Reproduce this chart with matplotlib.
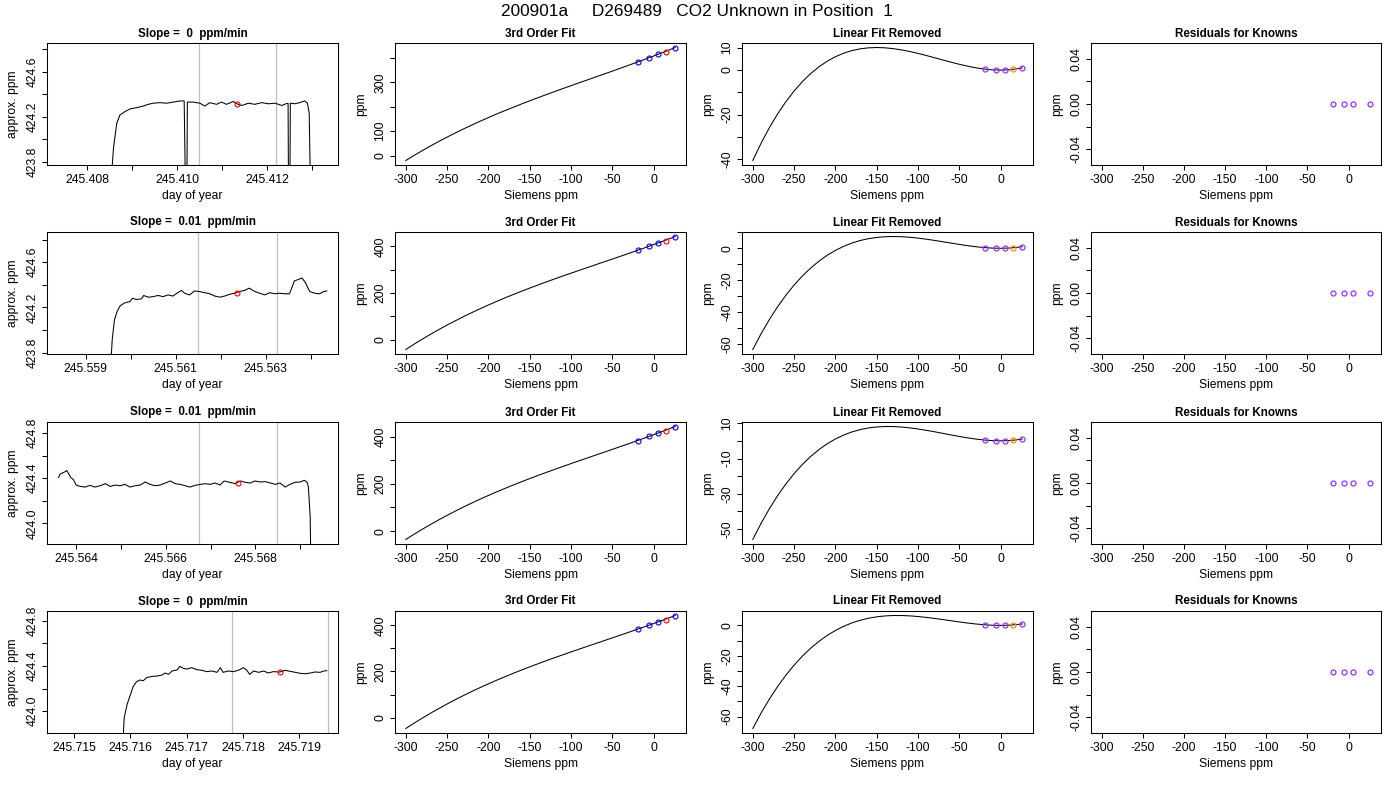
import matplotlib
matplotlib.use("Agg")
import matplotlib.pyplot as plt

plt.rcParams['font.family'] = ['Liberation Sans', 'DejaVu Sans']
plt.rcParams['axes.unicode_minus'] = False

#---------------------------- data ------------------------------------#

main_title = "200901a     D269489   CO2 Unknown in Position  1"
slope_titles = ["Slope =  0  ppm/min", "Slope =  0.01  ppm/min",
                "Slope =  0.01  ppm/min", "Slope =  0  ppm/min"]

# analyser trace, day of year vs approx. ppm (423.5 = off scale low)
day_1 = [245.40851, 245.40859, 245.40866, 245.40873, 245.40884, 245.40896, 245.40910,
         245.40925, 245.40936, 245.40947, 245.40962, 245.40977, 245.40992, 245.41007,
         245.41016, 245.41019, 245.41022, 245.41023, 245.41036, 245.41051, 245.41062,
         245.41073, 245.41088, 245.41099, 245.41110, 245.41125, 245.41134, 245.41144,
         245.41159, 245.41173, 245.41188, 245.41203, 245.41218, 245.41233, 245.41242,
         245.41247, 245.41248, 245.41251, 245.41252, 245.41262, 245.41273,
         245.41284, 245.41290, 245.41294, 245.41297]
ppm_1 = [423.50, 423.93, 424.14, 424.215, 424.245, 424.27, 424.28,
         424.295, 424.31, 424.32, 424.325, 424.32, 424.33, 424.34,
         424.34, 423.50, 423.50, 424.33, 424.33, 424.32, 424.295,
         424.325, 424.31, 424.33, 424.31, 424.335, 424.313, 424.30,
         424.32, 424.31, 424.325, 424.315, 424.32, 424.30, 424.315,
         424.32, 423.50, 423.50, 424.32, 424.315, 424.325,
         424.34, 424.32, 424.23, 423.50]

day_2 = [245.55953, 245.55959, 245.55964, 245.55970, 245.55977, 245.55987, 245.55998,
         245.56004, 245.56013, 245.56024, 245.56029, 245.56039, 245.56050, 245.56061,
         245.56072, 245.56083, 245.56094, 245.56101, 245.56113, 245.56120, 245.56131,
         245.56142, 245.56153, 245.56164, 245.56176, 245.56187, 245.56198, 245.56209,
         245.56220, 245.56231, 245.56242, 245.56253, 245.56264, 245.56276, 245.56287,
         245.56298, 245.56309, 245.56320, 245.56331, 245.56342, 245.56353, 245.56359,
         245.56364, 245.56372, 245.56381, 245.56389, 245.56398, 245.56409, 245.56420,
         245.56429, 245.56436]
ppm_2 = [423.50, 423.915, 424.09, 424.165, 424.215, 424.24, 424.25,
         424.28, 424.27, 424.275, 424.305, 424.29, 424.295, 424.305,
         424.295, 424.31, 424.30, 424.32, 424.35, 424.325, 424.31,
         424.345, 424.34, 424.33, 424.32, 424.30, 424.29, 424.30,
         424.315, 424.325, 424.34, 424.35, 424.37, 424.34, 424.325,
         424.31, 424.33, 424.32, 424.325, 424.32, 424.32, 424.38,
         424.435, 424.445, 424.46, 424.415, 424.34, 424.325, 424.32,
         424.34, 424.345]

day_3 = [245.56361, 245.56364, 245.56370, 245.56375, 245.56379, 245.56383, 245.56388,
         245.56394, 245.56400, 245.56409, 245.56420, 245.56431, 245.56442, 245.56454,
         245.56465, 245.56476, 245.56487, 245.56498, 245.56509, 245.56520, 245.56532,
         245.56543, 245.56554, 245.56565, 245.56576, 245.56587, 245.56599, 245.56610,
         245.56621, 245.56632, 245.56643, 245.56654, 245.56665, 245.56677, 245.56688,
         245.56699, 245.56710, 245.56721, 245.56730, 245.56743, 245.56755, 245.56766,
         245.56777, 245.56788, 245.56799, 245.56810, 245.56822, 245.56833, 245.56844,
         245.56855, 245.56866, 245.56877, 245.56888, 245.56900, 245.56909, 245.56915,
         245.56918, 245.56922, 245.56924]
ppm_3 = [424.406, 424.436, 424.448, 424.457, 424.469, 424.442, 424.406,
         424.388, 424.34, 424.328, 424.322, 424.337, 424.322, 424.334,
         424.352, 424.328, 424.34, 424.334, 424.346, 424.322, 424.334,
         424.34, 424.367, 424.346, 424.334, 424.34, 424.358, 424.376,
         424.352, 424.346, 424.334, 424.322, 424.337, 424.346, 424.352,
         424.346, 424.358, 424.34, 424.376, 424.364, 424.352, 424.376,
         424.364, 424.358, 424.376, 424.367, 424.37, 424.358, 424.346,
         424.358, 424.322, 424.346, 424.364, 424.367, 424.382, 424.364,
         424.322, 424.054, 423.50]

day_4 = [245.71585, 245.71589, 245.71594, 245.71600, 245.71605, 245.71611, 245.71617,
         245.71623, 245.71629, 245.71638, 245.71647, 245.71656, 245.71662, 245.71668,
         245.71674, 245.71683, 245.71688, 245.71694, 245.71700, 245.71709, 245.71718,
         245.71727, 245.71736, 245.71745, 245.71754, 245.71760, 245.71765, 245.71774,
         245.71783, 245.71792, 245.71801, 245.71807, 245.71812, 245.71819, 245.71828,
         245.71837, 245.71845, 245.71854, 245.71866, 245.71875, 245.71884, 245.71893,
         245.71902, 245.71911, 245.71920, 245.71928, 245.71937, 245.71944, 245.71949]
ppm_4 = [423.50, 423.937, 424.055, 424.143, 424.217, 424.261, 424.276,
         424.27, 424.297, 424.308, 424.311, 424.32, 424.338, 424.326,
         424.356, 424.365, 424.397, 424.379, 424.373, 424.385, 424.368,
         424.362, 424.35, 424.356, 424.344, 424.385, 424.344, 424.356,
         424.35, 424.362, 424.385, 424.362, 424.326, 424.356, 424.344,
         424.356, 424.338, 424.35, 424.347, 424.362, 424.353, 424.344,
         424.335, 424.332, 424.338, 424.347, 424.344, 424.356, 424.359]

trace_day = [day_1, day_2, day_3, day_4]
trace_ppm = [ppm_1, ppm_2, ppm_3, ppm_4]

mean_day = [245.41134, 245.56236, 245.56760, 245.71866]
mean_ppm = [424.313, 424.327, 424.358, 424.347]
window_day = [(245.41048, 245.41221), (245.56150, 245.56325),
              (245.56674, 245.56848), (245.71780, 245.71952)]
day_range = [(245.40711, 245.41358), (245.55814, 245.56461),
             (245.56335, 245.56984), (245.71452, 245.71969)]

day_ticks = [[245.408, 245.409, 245.410, 245.411, 245.412, 245.413],
             [245.559, 245.560, 245.561, 245.562, 245.563, 245.564],
             [245.564, 245.565, 245.566, 245.567, 245.568, 245.569],
             [245.715, 245.716, 245.717, 245.718, 245.719]]
day_labels = [["245.408", "", "245.410", "", "245.412", ""],
              ["245.559", "", "245.561", "", "245.563", ""],
              ["245.564", "", "245.566", "", "245.568", ""],
              ["245.715", "245.716", "245.717", "245.718", "245.719"]]
trace_yticks = [[423.8, 424.0, 424.2, 424.4, 424.6, 424.8],
                [423.8, 424.0, 424.2, 424.4, 424.6, 424.8],
                [424.0, 424.2, 424.4, 424.6, 424.8],
                [424.0, 424.2, 424.4, 424.6, 424.8]]
trace_ylabels = [["423.8", "", "424.2", "", "424.6", ""],
                 ["423.8", "", "424.2", "", "424.6", ""],
                 ["424.0", "", "424.4", "", "424.8"],
                 ["424.0", "", "424.4", "", "424.8"]]

# cubic fit of the standards, Siemens ppm vs ppm
siemens = [-300, -290, -280, -270, -260, -250, -240, -230, -220, -210,
           -200, -190, -180, -170, -160, -150, -140, -130, -120, -110,
           -100, -90, -80, -70, -60, -50, -40, -30, -20, -10,
           0, 10, 20, 26.3]
fit_1 = [-20.1, 0.5, 20.3, 39.4, 57.8, 75.5, 92.6, 109.1, 125.1, 140.5,
         155.4, 169.9, 184.0, 197.6, 211.0, 224.0, 236.8, 249.3, 261.7, 273.9,
         285.9, 297.9, 309.8, 321.7, 333.6, 345.5, 357.6, 369.8, 382.1, 394.6,
         407.4, 420.4, 433.8, 442.3]
fit_2 = [-42.7, -20.0, 1.8, 22.7, 42.8, 62.1, 80.6, 98.5, 115.7, 132.3,
         148.3, 163.7, 178.7, 193.1, 207.2, 220.9, 234.2, 247.3, 260.0, 272.6,
         285.0, 297.2, 309.3, 321.4, 333.5, 345.5, 357.7, 369.9, 382.3, 394.8,
         407.6, 420.6, 434.0, 442.5]
fit_3 = [-35.6, -13.5, 7.7, 28.0, 47.6, 66.4, 84.5, 102.0, 118.8, 135.0,
         150.6, 165.8, 180.5, 194.7, 208.5, 222.0, 235.2, 248.0, 260.7, 273.1,
         285.4, 297.5, 309.6, 321.6, 333.6, 345.6, 357.7, 369.9, 382.3, 394.8,
         407.6, 420.6, 434.0, 442.5]
fit_4 = [-47.3, -24.4, -2.3, 18.9, 39.3, 58.8, 77.6, 95.7, 113.2, 130.0,
         146.2, 161.8, 176.9, 191.6, 205.8, 219.7, 233.1, 246.3, 259.2, 271.9,
         284.4, 296.7, 308.9, 321.1, 333.2, 345.3, 357.5, 369.8, 382.2, 394.7,
         407.5, 420.5, 433.9, 442.4]
fit_ppm = [fit_1, fit_2, fit_3, fit_4]

# same fit with the linear part removed
nonlin_1 = [-40.6, -32.90, -25.97, -19.78, -14.30, -9.48, -5.28, -1.69, 1.35, 3.87,
            5.90, 7.48, 8.65, 9.44, 9.88, 10.03, 9.90, 9.53, 8.97, 8.25,
            7.40, 6.46, 5.47, 4.46, 3.46, 2.53, 1.68, 0.95, 0.39, 0.03,
            -0.10, 0.04, 0.49, 0.94]
nonlin_2 = [-63.2, -53.43, -44.55, -36.53, -29.34, -22.93, -17.27, -12.31, -8.01, -4.33,
            -1.24, 1.31, 3.36, 4.94, 6.10, 6.88, 7.32, 7.46, 7.34, 6.99,
            6.47, 5.80, 5.03, 4.20, 3.36, 2.53, 1.76, 1.09, 0.57, 0.22,
            0.10, 0.24, 0.68, 1.13]
nonlin_3 = [-56.06, -46.91, -38.63, -31.17, -24.51, -18.59, -13.38, -8.84, -4.93, -1.62,
            1.14, 3.39, 5.15, 6.49, 7.42, 8.00, 8.25, 8.23, 7.96, 7.49,
            6.86, 6.10, 5.26, 4.37, 3.47, 2.60, 1.81, 1.12, 0.58, 0.23,
            0.10, 0.24, 0.68, 1.14]
nonlin_4 = [-67.84, -57.76, -48.59, -40.30, -32.84, -26.17, -20.26, -15.06, -10.54, -6.65,
            -3.35, -0.60, 1.63, 3.39, 4.72, 5.65, 6.24, 6.51, 6.51, 6.28,
            5.86, 5.29, 4.61, 3.86, 3.08, 2.30, 1.58, 0.95, 0.45, 0.12,
            0.0, 0.13, 0.56, 0.99]
nonlin = [nonlin_1, nonlin_2, nonlin_3, nonlin_4]

known_siemens = [-19.3, -5.5, 5.9, 26.3]
known_ppm = [382.9, 400.3, 415.1, 442.3]
unk_siemens = 14.7

known_nonlin = [[0.36, -0.06, -0.05, 0.94],
                [0.54, 0.14, 0.15, 1.13],
                [0.55, 0.14, 0.15, 1.14],
                [0.42, 0.04, 0.05, 0.99]]
unk_nonlin = [0.21, 0.40, 0.41, 0.29]

known_resid = [[0.0, 0.0, 0.0, 0.0], [0.0, 0.0, 0.0, 0.0],
               [0.0, 0.0, 0.0, 0.0], [0.0, 0.0, 0.0, 0.0]]

siemens_ticks = [-300, -250, -200, -150, -100, -50, 0]
siemens_labels = ["-300", "-250", "-200", "-150", "-100", "-50", "0"]
fit_yticks = [0, 100, 200, 300, 400]
fit_ylabels = [["0", "100", "", "300", ""],
               ["0", "", "200", "", "400"],
               ["0", "", "200", "", "400"],
               ["0", "", "200", "", "400"]]
nonlin_yticks = [[-40, -30, -20, -10, 0, 10],
                 [-60, -50, -40, -30, -20, -10, 0, 10],
                 [-50, -40, -30, -20, -10, 0, 10],
                 [-60, -50, -40, -30, -20, -10, 0]]
nonlin_ylabels = [["-40", "", "-20", "", "0", "10"],
                  ["-60", "", "-40", "", "-20", "", "0", ""],
                  ["-50", "", "-30", "", "-10", "", "10"],
                  ["-60", "", "-40", "", "-20", "", "0"]]
resid_yticks = [-0.04, -0.02, 0.0, 0.02, 0.04]
resid_ylabels = ["-0.04", "", "0.00", "", "0.04"]

#--------------------------- layout -----------------------------------#

W, H = 1400.0, 800.0
col_left = [47, 395, 742, 1091]
col_w = [291, 291, 291, 290]
row_top = [43, 232, 422, 611]
row_h = 122

BLUE, RED, PURPLE, ORANGE, GRAY = '#0000FF', '#FF0000', '#9933FF', '#FF8C00', '#BEBEBE'
FS = 8.7


def rpad(lo, hi):
    d = (hi - lo) * 0.04
    return lo - d, hi + d


def panel(col, row):
    ax = fig.add_axes([col_left[col] / W, (H - row_top[row] - row_h) / H,
                       col_w[col] / W, row_h / H])
    for s in ax.spines.values():
        s.set_linewidth(0.75)
    ax.tick_params(direction='out', length=3.6, width=0.75, labelsize=FS, pad=3.2)
    ax.tick_params(axis='y', pad=2.5)
    return ax


def finish(ax, col, title, xlab, ylab, xt, xtl, yt, ytl, xlim, ylim):
    ax.set_xticks(xt)
    ax.set_xticklabels(xtl)
    ax.set_yticks(yt)
    ax.set_yticklabels(ytl, rotation=90, va='center')
    ax.set_xlim(xlim)
    ax.set_ylim(ylim)
    ax.set_title(title, fontsize=8.4, fontweight='bold', y=1 + 9.5 / row_h,
                 va='center', pad=0)
    ax.set_xlabel(xlab, fontsize=FS, va='center')
    ax.xaxis.set_label_coords(0.5, -31.0 / row_h)
    ax.set_ylabel(ylab, fontsize=FS, va='center')
    ax.yaxis.set_label_coords(-34.0 / col_w[col], 0.5)


fig = plt.figure(figsize=(14, 8), dpi=100)
fig.text(0.498, 1 - 12.0 / H, main_title, ha='center', va='center', fontsize=12.4)

s_lim = rpad(min(siemens), max(siemens))

for r in range(4):
    # day of year trace
    ax = panel(0, r)
    for d in window_day[r]:
        ax.axvline(d, color=GRAY, lw=0.9, zorder=1)
    ax.plot(trace_day[r], trace_ppm[r], color='black', lw=0.75, zorder=2)
    ax.plot([mean_day[r]], [mean_ppm[r]], 'o', mfc='none', mec=RED, ms=3.6, mew=0.8, zorder=3)
    finish(ax, 0, slope_titles[r], "day of year", "approx. ppm",
           day_ticks[r], day_labels[r], trace_yticks[r], trace_ylabels[r],
           day_range[r], rpad(mean_ppm[r] - 0.5, mean_ppm[r] + 0.5))

    # 3rd order fit
    ax = panel(1, r)
    ax.plot(siemens, fit_ppm[r], color='black', lw=0.75)
    ax.plot(known_siemens, known_ppm, 'o', mfc='none', mec=BLUE, ms=3.6, mew=0.8)
    ax.plot([unk_siemens], [mean_ppm[r]], 'o', mfc='none', mec=RED, ms=3.6, mew=0.8)
    finish(ax, 1, "3rd Order Fit", "Siemens ppm", "ppm",
           siemens_ticks, siemens_labels, fit_yticks, fit_ylabels[r],
           s_lim, rpad(min(fit_ppm[r]), max(fit_ppm[r])))

    # linear fit removed
    ax = panel(2, r)
    ax.plot(siemens, nonlin[r], color='black', lw=0.75)
    ax.plot(known_siemens, known_nonlin[r], 'o', mfc='none', mec=PURPLE, ms=3.6, mew=0.9)
    ax.plot([unk_siemens], [unk_nonlin[r]], 'o', mfc='none', mec=ORANGE, ms=3.6, mew=0.9)
    finish(ax, 2, "Linear Fit Removed", "Siemens ppm", "ppm",
           siemens_ticks, siemens_labels, nonlin_yticks[r], nonlin_ylabels[r],
           s_lim, rpad(min(nonlin[r]), max(nonlin[r])))

    # residuals for knowns
    ax = panel(3, r)
    ax.plot(known_siemens, known_resid[r], 'o', mfc='none', mec=PURPLE, ms=3.6, mew=0.9)
    finish(ax, 3, "Residuals for Knowns", "Siemens ppm", "ppm",
           siemens_ticks, siemens_labels, resid_yticks, resid_ylabels,
           s_lim, rpad(-0.05, 0.05))

fig.savefig("out.png", dpi=100)
